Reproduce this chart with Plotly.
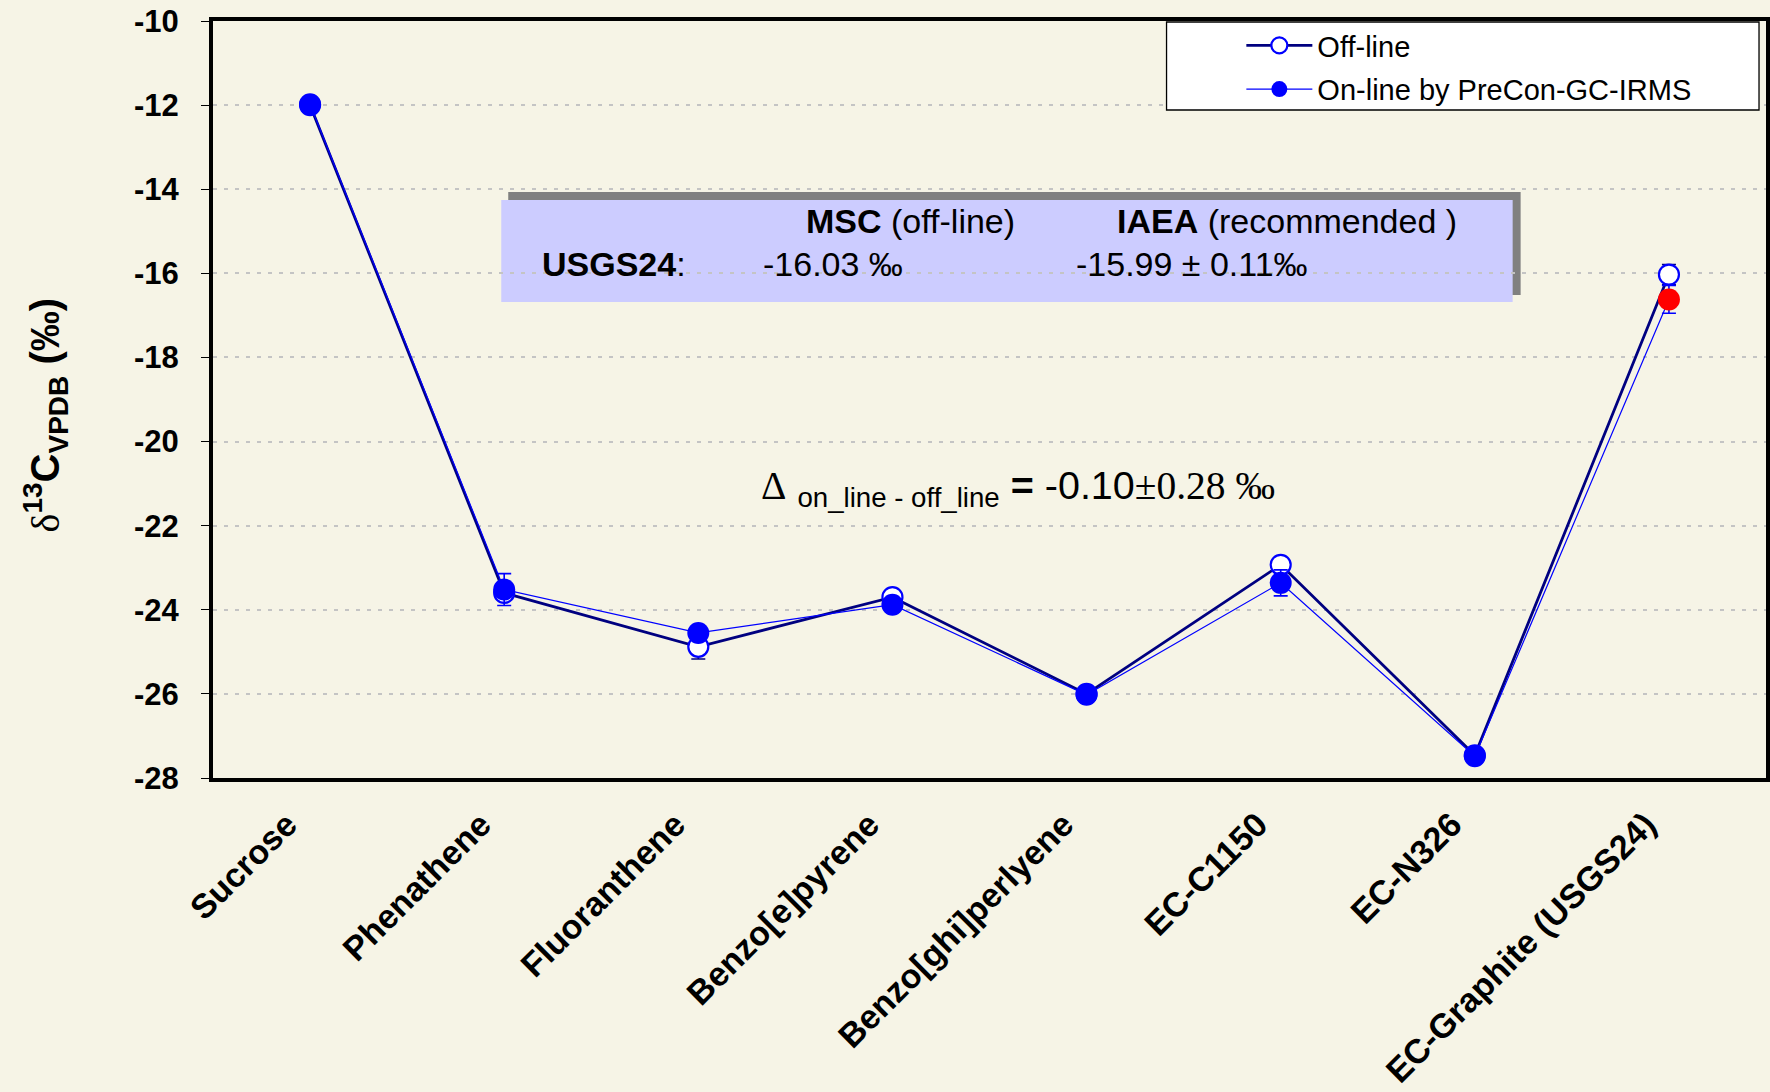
import plotly.graph_objects as go

# --- data -------------------------------------------------------------
categories = ["Sucrose", "Phenathene", "Fluoranthene", "Benzo[e]pyrene",
              "Benzo[ghi]perlyene", "EC-C1150", "EC-N326", "EC-Graphite (USGS24)"]
off_line = [-12.00, -23.60, -24.88, -23.70, -26.00, -22.93, -27.46, -16.03]
on_line = [-11.98, -23.52, -24.55, -23.88, -26.02, -23.36, -27.48, -16.62]
off_line_err = [None, None, 0.29, None, None, None, None, 0.24]
on_line_err = [None, 0.38, None, None, None, 0.31, None, 0.33]
on_line_colors = ["#0000FF"] * 7 + ["#FF0000"]

y_ticks = [-10, -12, -14, -16, -18, -20, -22, -24, -26, -28]

# --- layout geometry (pixels) ----------------------------------------
W, H = 1770, 1092
L, R, T, B = 213, 0, 21, 314
PW, PH = W - L - R, H - T - B


def px_x(x):
    return (x - L) / PW


def px_y(y):
    return (H - B - y) / PH


BG = "#F6F4E6"
SANS = "Liberation Sans, Arial, sans-serif"
SERIF = "Liberation Serif, Times New Roman, serif"

fig = go.Figure()

fig.add_trace(go.Scatter(
    x=categories, y=off_line, name="Off-line", mode="lines+markers",
    legendgroup="a",
    line=dict(color="#000080", width=2.8),
    marker=dict(symbol="circle", size=20, color="white",
                line=dict(color="#0000FF", width=2.2)),
    error_y=dict(type="data", array=off_line_err, visible=True,
                 color="#000080", thickness=1.6, width=7),
))

fig.add_trace(go.Scatter(
    x=categories, y=on_line, name="On-line by PreCon-GC-IRMS", mode="lines+markers",
    legendgroup="b",
    line=dict(color="#0000FF", width=1.2),
    marker=dict(symbol="circle", size=22, color=on_line_colors, line=dict(width=0)),
    error_y=dict(type="data", array=on_line_err, visible=True,
                 color="#0000FF", thickness=1.6, width=7),
))

shapes = [
    # shadow and panel of the reference-value box
    dict(type="rect", xref="paper", yref="paper", layer="between",
         x0=px_x(509), x1=px_x(1524), y0=px_y(295), y1=px_y(192),
         fillcolor="#808080", line=dict(width=0)),
    dict(type="rect", xref="paper", yref="paper", layer="between",
         x0=px_x(502), x1=px_x(1516), y0=px_y(302), y1=px_y(200),
         fillcolor="#CCCCFF", line=dict(width=0)),
    # legend frame
    dict(type="rect", xref="paper", yref="paper", layer="above",
         x0=px_x(1169), x1=px_x(1763), y0=px_y(110), y1=px_y(22),
         fillcolor="white", line=dict(color="black", width=1.3)),
]

box_font = dict(family=SANS, size=34, color="black")
annotations = [
    dict(text="<b>MSC</b> (off-line)", x=px_x(912), y=px_y(221),
         xanchor="center", yanchor="middle", font=box_font),
    dict(text="<b>IAEA</b> (recommended )", x=px_x(1290), y=px_y(221),
         xanchor="center", yanchor="middle", font=box_font),
    dict(text="<b>USGS24</b>:", x=px_x(541), y=px_y(264),
         xanchor="left", yanchor="middle", font=box_font),
    dict(text="-16.03 ‰", x=px_x(762), y=px_y(264),
         xanchor="left", yanchor="middle", font=box_font),
    dict(text="-15.99 ± 0.11‰", x=px_x(1076), y=px_y(264),
         xanchor="left", yanchor="middle", font=box_font),
    dict(text=(f"<span style='font-family:{SERIF}'>Δ</span> "
               "<sub>on_line - off_line</sub> <b>=</b> -0.10"
               f"<span style='font-family:{SERIF}'>±0.28 ‰</span>"),
         x=px_x(1020), y=px_y(488), xanchor="center", yanchor="middle",
         font=dict(family=SANS, size=39.5, color="black")),
    dict(text=(f"<span style='font-family:{SERIF}'>δ</span><sup><b>13</b></sup>"
               "<b>C</b><sub><b>VPDB</b></sub><b> (‰)</b>"),
         x=px_x(45), y=px_y(415), xanchor="center", yanchor="middle",
         textangle=-90, font=dict(family=SANS, size=40, color="black")),
]

for a in annotations:
    a.update(xref="paper", yref="paper", showarrow=False)

fig.update_layout(
    width=W, height=H,
    margin=dict(l=L, r=R, t=T, b=B, pad=0),
    paper_bgcolor=BG, plot_bgcolor=BG,
    font=dict(family=SANS, color="black"),
    shapes=shapes, annotations=annotations,
    showlegend=True,
    legend=dict(x=px_x(1244), y=px_y(20), xanchor="left", yanchor="top",
                bgcolor="rgba(0,0,0,0)", borderwidth=0,
                font=dict(family=SANS, size=29, color="black"),
                itemwidth=66, tracegroupgap=3),
    xaxis=dict(type="category", range=[-0.5, 7.5], tickangle=-45,
               showgrid=False, ticks="", showline=True, linecolor="black",
               linewidth=4, mirror=True, ticklabelstandoff=9, ticklabelshift=-23,
               tickfont=dict(family=SANS, size=34, weight="bold", color="black")),
    yaxis=dict(range=[-28, -10], tickvals=y_ticks, ticktext=[str(v) for v in y_ticks],
               showgrid=True, gridcolor="#C4C4C4", gridwidth=1.5, griddash="4px,7px",
               zeroline=False, showline=True, linecolor="black", linewidth=4,
               mirror=True, ticks="outside", ticklen=8, tickwidth=1, tickcolor="black",
               ticklabelstandoff=16,
               tickfont=dict(family=SANS, size=31, weight="bold", color="black")),
)

fig.write_html("out.html")
